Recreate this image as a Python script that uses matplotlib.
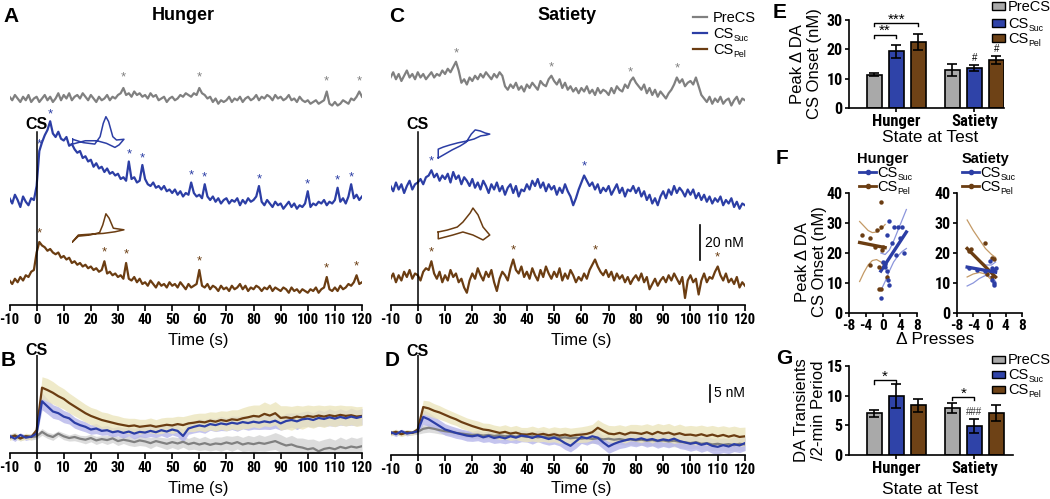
import numpy as np
import matplotlib
matplotlib.use('Agg')
import matplotlib.pyplot as plt
from matplotlib import font_manager
from matplotlib.font_manager import FontProperties
from matplotlib.patches import Rectangle
from matplotlib.lines import Line2D

names = {f.name for f in font_manager.fontManager.ttflist}
BASE = 'Liberation Sans' if 'Liberation Sans' in names else 'DejaVu Sans'
plt.rcParams['font.family'] = [BASE, 'DejaVu Sans']


def _w(f):
    w = f.weight
    if isinstance(w, str):
        w = font_manager.weight_dict.get(w, 400)
    return w


COND_PATH = None
_best = None
for f in font_manager.fontManager.ttflist:
    n = f.name.lower()
    st = str(f.stretch).lower()
    narrow = ('narrow' in n) or ('condensed' in n) or ('condensed' in st) or ('condensed' in f.fname.lower())
    if narrow and _w(f) >= 600 and f.style == 'normal':
        rank = 0 if 'liberation' in n else (1 if 'roboto' in n else (2 if 'open' in n else 3))
        if _best is None or rank < _best:
            _best = rank
            COND_PATH = f.fname


def tickfont(size):
    if COND_PATH:
        return FontProperties(fname=COND_PATH, size=size)
    return FontProperties(family=BASE, weight='bold', size=size - 1.0)


# ---------------- DATA ----------------
time_ticks = [-10, 0, 10, 20, 30, 40, 50, 60, 70, 80, 90, 100, 110, 120]
series_main = ['PreCS', 'CS', 'CS']
series_subs = ['', 'Suc', 'Pel']

# Panel A (Hunger, single trials, nM, 1-s samples from -10 to 120 s)
gray_A = [1, -1, 2, 0, -2, 1, -1, 2, -2, 0,
          1, -2, 0, 2, -1, 1, -2, 0, 3, -1,
          2, 0, 3, -1, 1, 2, 0, 3, 1, -1,
          2, 0, -2, 1, -1, 0, 2, -1, 1, 0,
          2, 3, 6, 2, 3, 1, 4, 2, 3, 1,
          2, 0, 3, 1, 2, -1, 0, 1, -2, 0,
          1, -1, 0, 2, 1, 3, 2, 1, 3, 2,
          6, 3, 2, 0, 1, -2, 0, -3, -1, -2,
          -1, 1, -2, 0, -1, 1, -2, 0, 1, -1,
          0, 2, -1, 1, 0, 2, 1, -1, 2, 0,
          1, -1, 0, 2, -1, 0, -2, 1, -1, -2,
          -1, -3, -2, -1, -3, -2, -1, 4, -3, -4,
          -2, -4, -3, -1, -2, -3, 0, -1, 1, 4, 1]
blue_A = [1, -2, 3, 0, -4, 2, -1, -3, 1, 0,
          8, 28, 33, 37, 40, 45, 38, 36, 39, 35,
          34, 36, 31, 32, 29, 27, 28, 24, 25, 22,
          23, 19, 21, 18, 19, 16, 18, 15, 16, 14,
          15, 12, 13, 11, 22, 12, 13, 10, 11, 20,
          12, 9, 8, 10, 7, 8, 6, 8, 5, 6,
          4, 6, 3, 5, 2, 4, 3, 10, 4, 2,
          3, 1, 9, 2, 0, 2, -1, 1, -2, 0,
          1, -2, 0, -1, 1, -3, 0, -2, 1, -1,
          0, 2, 8, -1, -3, 0, -2, -4, -1, -3,
          -2, -5, -3, -1, -4, -2, -5, -3, -4, -2,
          5, -4, -2, -3, -1, -2, 0, -3, -1, -2,
          0, 7, -1, 1, -2, 2, 9, 1, 3, 0, 2]
brown_A = [2, 0, 3, 1, 4, 2, 5, 4, 7, 8,
           18, 24, 22, 21, 19, 20, 18, 17, 18, 15,
           16, 14, 15, 12, 13, 11, 12, 10, 11, 9,
           10, 8, 9, 7, 8, 13, 6, 7, 5, 6,
           4, 5, 3, 12, 3, 2, 4, 1, 3, 0,
           1, -1, 2, 0, -2, 1, -1, 0, -2, 1,
           -1, 0, -2, 1, -1, -3, 0, -2, -1, 0,
           8, -1, -2, 0, -3, -1, -2, -4, -1, -3,
           -2, -4, -1, -3, -2, 0, -3, -1, -4, -2,
           -3, -1, -2, -4, -2, -3, -1, -4, -2, -3,
           -4, -2, -3, -5, -2, -4, -3, -5, -3, -4,
           -5, -3, -4, -2, -5, -3, -2, 4, -3, -4,
           -2, -4, -1, -3, -2, 0, -1, 1, 5, 0, 1]

# Panel C (Satiety, single trials)
gray_C = [12, 15, 11, 14, 10, 13, 16, 12, 14, 11,
          15, 12, 14, 11, 13, 15, 12, 14, 13, 16,
          14, 17, 15, 18, 21, 16, 9, 11, 8, 12,
          10, 13, 11, 14, 12, 15, 13, 11, 14, 12,
          15, 13, 7, 5, 8, 6, 9, 5, 7, 4,
          8, 6, 9, 7, 5, 10, 8, 7, 11, 13,
          10, 8, 11, 6, 9, 5, 7, 4, 6, 3,
          6, 4, 7, 3, 5, 2, 6, 3, 5, 4,
          2, 6, 3, 7, 5, 4, 8, 6, 10, 12,
          9, 7, 5, 8, 3, 6, 2, 5, 1, 4,
          2, 0, 3, 5, 8, 12, 9, 11, 7, 9,
          10, 8, 12, 7, 2, 0, -2, 1, -3, 0,
          -2, 1, -3, -1, 0, -4, -1, 1, -3, 0, -1]
blue_C = [8, 5, 10, 6, 9, 4, 8, 11, 6, 9,
          10, 12, 9, 13, 14, 17, 13, 15, 11, 14,
          12, 15, 10, 16, 12, 14, 9, 13, 11, 8,
          12, 7, 10, 6, 11, 8, 4, 9, 6, 10,
          5, 8, 3, 7, 9, 4, 8, 2, 6, 5,
          9, 6, 11, 8, 12, 7, 10, 5, 9, 6,
          8, 3, 7, 4, 9, 5, 2, -3, 1, 6,
          10, 14, 11, 8, 10, 6, 9, 4, 7, 5,
          8, 3, 6, 9, 4, 7, 2, 6, 5, 8,
          4, 7, 2, 5, 0, 3, -2, 1, -3, 2,
          5, 1, 6, 3, 8, 4, 7, 5, 2, 6,
          3, 6, 1, 4, 0, 3, -1, 2, -2, 1,
          -1, 2, -3, 0, -2, 1, -4, -1, -5, -2, -3]
brown_C = [3, 6, 1, 5, 2, 7, 4, 8, 3, 6,
           5, 2, 7, 9, 8, 13, 6, 3, 7, 1,
           5, 2, 8, 4, 6, 1, 3, -2, -5, 2,
           6, 3, 9, 5, 2, 7, 4, 8, 1, -4,
           3, 7, 5, 2, 9, 14, 8, 6, 10, 4,
           7, 3, 9, 5, 2, 8, 4, 10, 6, 3,
           7, 4, 9, 2, 6, 3, 8, 5, 1, 4,
           2, 6, 3, 8, 11, 14, 10, 7, 5, 8,
           4, 7, 2, 6, 3, 5, 1, 4, 0, 3,
           5, 2, 6, 1, 4, -3, 0, 3, -1, 2,
           4, 1, 5, 2, 6, 3, 0, 4, -8, 2,
           5, 1, 3, -6, 2, 6, 1, 4, 3, 7,
           10, 5, 2, 6, 1, 3, 0, 4, -2, 1, -1]

stars_gray_A = [32, 60, 107, 119]
stars_blue_A = [1, 5, 34, 39, 57, 62, 82, 100, 111, 116]
stars_brown_A = [1, 25, 33, 60, 107, 118]
stars_gray_C = [14, 49, 78, 95]
stars_blue_C = [5, 61]
stars_brown_C = [5, 35, 65, 110]

# Panel B (Hunger averages, nM, 2-s samples from -10 to 120 s)
B_gray = [0.0, 0.5, -0.5, 0.3, 0.0, 0.2, 1.5, 0.5, 0.0, 1.0, 0.2, -0.3, 0.0, -0.5, -0.8, -0.3,
          -1.0, -0.6, -0.9, -0.4, -1.2, -0.8, -1.1, -1.5, -1.0, -1.3, -1.8, -1.2, -1.6, -2.0,
          -1.5, -1.9, -1.4, -2.1, -1.7, -2.2, -1.8, -2.3, -1.9, -2.1, -1.6, -2.0, -1.5, -2.2,
          -1.8, -2.1, -1.7, -2.0, -1.6, -1.2, -1.9, -2.5, -2.2, -2.8, -3.1, -3.6, -3.3, -4.2,
          -3.5, -3.2, -3.6, -2.9, -3.3, -2.8, -3.1, -2.7]
B_blue = [0.3, -0.5, 0.6, -0.2, 0.1, 1.0, 10.5, 9.0, 7.5, 7.0, 6.0, 5.5, 4.2, 3.5, 3.0, 2.2,
          2.5, 1.8, 2.0, 1.4, 1.7, 1.2, 1.6, 1.0, 1.5, 1.3, 1.8, 1.4, 2.0, 1.6, 2.2, 1.8, 0.3,
          2.5, 3.0, 3.4, 3.1, 3.8, 3.5, 4.0, 3.7, 4.2, 3.9, 4.4, 4.1, 4.5, 4.2, 4.6, 4.3, 4.8,
          4.0, 4.7, 5.0, 4.6, 5.2, 5.4, 5.0, 5.6, 5.3, 5.8, 5.4, 5.9, 5.5, 6.0, 5.6, 6.0]
B_brown = [-0.2, 0.4, -0.4, 0.2, 0.0, 2.0, 14.5, 13.8, 13.0, 12.0, 11.2, 10.0, 9.0, 8.0, 7.0,
           6.2, 5.6, 5.0, 4.6, 4.2, 3.8, 3.5, 3.2, 3.4, 3.0, 3.2, 3.4, 3.0, 3.3, 3.6, 3.4, 3.8,
           3.5, 4.0, 4.2, 4.5, 4.3, 4.8, 4.5, 5.0, 4.7, 5.2, 5.0, 5.5, 5.8, 6.2, 6.0, 6.8, 6.3,
           7.0, 5.6, 5.8, 5.5, 6.0, 5.7, 6.2, 5.9, 6.3, 6.0, 6.4, 6.1, 6.5, 6.2, 6.4, 6.0, 6.2]
B_gray_sem = [0.8, 0.9, 0.7, 0.8, 0.9, 0.8, 1.0, 0.9, 1.0, 0.8, 1.0, 0.9, 1.1, 1.0, 1.2,
              1.1, 1.2, 1.0, 1.3, 1.2, 1.3, 1.1, 1.4, 1.3, 1.5, 1.4, 1.6, 1.4, 1.5, 1.7,
              1.6, 1.8, 1.6, 1.7, 1.9, 1.8, 2.0, 1.8, 1.9, 2.1, 2.0, 2.2, 2.0, 2.1, 2.3,
              2.2, 2.4, 2.2, 2.3, 2.5, 2.6, 2.4, 2.7, 2.5, 2.8, 2.9, 2.7, 3.0, 2.8, 2.9,
              2.7, 2.9, 2.6, 2.8, 2.7, 2.8]
B_blue_sem = [0.7, 0.8, 0.6, 0.8, 0.7, 0.9, 2.5, 2.2, 2.0, 1.9, 1.8, 1.7, 1.6, 1.5, 1.5,
              1.4, 1.5, 1.3, 1.4, 1.3, 1.4, 1.5, 1.3, 1.6, 1.4, 1.5, 1.7, 1.5, 1.6, 1.8,
              1.6, 1.7, 1.9, 1.7, 1.8, 1.9, 2.0, 1.8, 1.9, 2.1, 1.9, 2.0, 2.2, 2.0, 2.1,
              2.2, 2.0, 2.3, 2.1, 2.2, 2.0, 2.3, 2.1, 2.4, 2.2, 2.3, 2.1, 2.4, 2.2, 2.5,
              2.3, 2.4, 2.2, 2.5, 2.3, 2.4]
B_brown_sem = [0.8, 0.9, 0.7, 0.9, 0.8, 1.0, 3.2, 3.4, 3.3, 3.1, 3.0, 2.9, 2.8, 2.7, 2.6,
               2.5, 2.6, 2.4, 2.5, 2.3, 2.4, 2.2, 2.3, 2.1, 2.2, 2.0, 2.2, 2.1, 2.3, 2.2,
               2.4, 2.3, 2.5, 2.4, 2.6, 2.5, 2.7, 2.6, 2.8, 2.7, 2.9, 2.8, 3.0, 3.1, 3.3,
               3.2, 3.4, 3.5, 3.3, 3.4, 3.6, 3.4, 3.5, 3.3, 3.4, 3.2, 3.3, 3.1, 3.2, 3.0,
               3.1, 2.9, 3.0, 2.8, 2.9, 2.8]

# Panel D (Satiety averages)
D_gray = [0.0, 0.3, -0.3, 0.2, 0.0, 0.3, 1.2, 1.5, 1.2, 0.8, 0.5, 0.3, 0.0, -0.2, -0.4,
          -0.6, -0.5, -0.8, -0.6, -0.9, -0.7, -1.0, -0.8, -1.1, -0.9, -1.2, -1.0, -1.3, -1.1,
          -1.4, -1.2, -1.5, -1.3, -1.6, -1.4, -1.7, -1.5, -1.8, -1.6, -1.9, -1.7, -2.0, -1.8,
          -2.1, -1.9, -2.2, -2.0, -2.3, -2.1, -2.4, -2.2, -2.5, -2.3, -2.6, -2.8, -3.0, -2.7,
          -3.2, -3.0, -3.4, -3.2, -3.5, -3.3, -3.6, -3.2, -3.4]
D_blue = [0.2, -0.4, 0.5, -0.2, 0.1, 0.5, 4.7, 4.0, 3.0, 2.0, 1.0, 0.5, 0.0, -0.4, -0.8,
          -1.0, -0.7, -1.3, -0.9, -1.5, -1.2, -1.6, -1.0, -1.4, -0.8, -1.0, -1.5, -0.9, -1.3,
          -1.8, -1.4, -2.0, -3.0, -3.8, -2.5, -1.2, -1.6, -1.0, -1.4, -2.8, -4.0, -3.2, -2.6,
          -2.2, -1.8, -2.0, -1.6, -2.1, -1.8, -2.3, -1.9, -2.2, -1.7, -2.4, -2.8, -3.2, -2.9,
          -3.5, -3.1, -3.8, -4.1, -3.6, -4.0, -3.3, -3.7, -3.0]
D_brown = [-0.2, 0.3, -0.4, 0.2, 0.0, 1.0, 7.6, 7.2, 6.5, 6.0, 5.3, 4.6, 4.0, 3.2, 2.6,
           2.0, 1.5, 1.0, 0.8, 0.4, 0.0, 0.3, -0.2, 0.1, -0.4, -0.5, -0.2, -0.6, -0.3, -0.7,
           -0.4, -0.8, -0.5, -0.9, -0.6, -0.5, -0.3, 0.2, 1.5, 0.6, -0.2, -0.4, 0.0, -0.5,
           0.1, 0.0, -0.3, 0.2, -0.4, 0.3, -0.2, 0.1, -0.5, -0.1, -0.6, -0.5, -0.8, -0.4,
           -0.9, -0.5, -1.0, -0.6, -1.1, -0.7, -1.2, -1.0]
D_gray_sem = [0.6, 0.7, 0.6, 0.7, 0.6, 0.7, 1.2, 1.3, 1.2, 1.1, 1.0, 1.0, 0.9, 1.0, 0.9,
              1.0, 1.1, 1.0, 1.1, 1.0, 1.1, 1.2, 1.1, 1.2, 1.1, 1.2, 1.3, 1.2, 1.3, 1.2,
              1.3, 1.2, 1.4, 1.3, 1.4, 1.3, 1.4, 1.3, 1.5, 1.4, 1.5, 1.4, 1.6, 1.5, 1.6,
              1.5, 1.6, 1.5, 1.7, 1.6, 1.7, 1.6, 1.8, 1.7, 1.8, 1.7, 1.8, 1.7, 1.9, 1.8,
              1.9, 1.8, 1.9, 1.8, 1.9, 1.8]
D_blue_sem = [0.6, 0.7, 0.6, 0.7, 0.6, 0.8, 2.2, 2.0, 1.9, 1.8, 1.7, 1.6, 1.6, 1.5, 1.6,
              1.5, 1.6, 1.5, 1.7, 1.6, 1.7, 1.6, 1.8, 1.7, 1.8, 1.7, 1.8, 1.7, 1.9, 1.8,
              1.9, 1.8, 1.9, 1.8, 2.0, 1.9, 2.0, 1.9, 2.0, 1.9, 2.0, 2.1, 2.0, 2.1, 2.0,
              2.1, 2.0, 2.1, 2.0, 2.2, 2.1, 2.2, 2.1, 2.2, 2.1, 2.2, 2.1, 2.2, 2.1, 2.2,
              2.1, 2.2, 2.1, 2.2, 2.1, 2.2]
D_brown_sem = [0.7, 0.8, 0.7, 0.8, 0.7, 0.9, 2.0, 2.2, 2.1, 2.0, 1.9, 1.9, 1.8, 1.9, 1.8,
               1.9, 2.0, 1.9, 2.0, 1.9, 2.0, 2.1, 2.0, 2.1, 2.0, 2.1, 2.2, 2.1, 2.2, 2.1,
               2.2, 2.3, 2.2, 2.3, 2.2, 2.3, 2.4, 2.3, 2.4, 2.3, 2.4, 2.5, 2.4, 2.5, 2.4,
               2.5, 2.6, 2.5, 2.6, 2.5, 2.6, 2.7, 2.6, 2.7, 2.6, 2.7, 2.8, 2.7, 2.8, 2.7,
               2.8, 2.7, 2.8, 2.7, 2.8, 2.7]

# Cyclic voltammogram insets (relative units)
cv_A_suc_x = [0.01, 0.21, 0.43, 0.53, 0.59, 0.64, 0.69, 0.77, 0.84, 0.98, 0.89, 0.81, 0.65, 0.47, 0.25, 0.01]
cv_A_suc_y = [0.29, 0.20, 0.16, 0.36, 0.72, 0.90, 0.77, 0.36, 0.27, 0.29, 0.14, 0.07, 0.18, 0.25, 0.25, 0.16]
cv_A_pel_x = [0.01, 0.12, 0.34, 0.52, 0.58, 0.64, 0.70, 0.78, 0.98, 0.81, 0.59, 0.34, 0.12]
cv_A_pel_y = [0.08, 0.22, 0.25, 0.31, 0.50, 0.78, 0.67, 0.42, 0.38, 0.33, 0.29, 0.27, 0.25]
cv_C_suc_x = [0.04, 0.16, 0.29, 0.43, 0.54, 0.63, 0.70, 0.79, 0.88, 0.96, 0.89, 0.80, 0.68, 0.54, 0.39, 0.25, 0.13, 0.04]
cv_C_suc_y = [0.06, 0.17, 0.29, 0.40, 0.51, 0.74, 0.86, 0.83, 0.77, 0.74, 0.71, 0.69, 0.60, 0.54, 0.49, 0.43, 0.37, 0.31]
cv_C_pel_x = [0.04, 0.20, 0.38, 0.48, 0.61, 0.66, 0.75, 0.84, 0.96, 0.84, 0.66, 0.48, 0.30, 0.04]
cv_C_pel_y = [0.29, 0.34, 0.42, 0.55, 0.79, 0.92, 0.74, 0.42, 0.21, 0.08, 0.21, 0.29, 0.21, 0.11]

# Panel E: peak change in DA at CS onset (nM)
groups = ['Hunger', 'Satiety']
E_hunger_mean = [11.3, 19.3, 22.5]
E_hunger_sem = [0.5, 2.3, 2.8]
E_satiety_mean = [13.0, 13.7, 16.4]
E_satiety_sem = [2.0, 1.0, 1.4]

# Panel F: correlation with change in presses
hun_suc_x = [-0.5, 0.0, 0.5, 0.5, 1.0, 1.2, 1.5, 1.0, 1.5, 2.0, 2.5, 3.5, 4.0, 4.5, 5.0, 3.0]
hun_suc_y = [5.0, 17.0, 15.5, 16.5, 14.0, 11.0, 9.5, 26.0, 30.5, 23.5, 28.5, 28.5, 25.0, 28.5, 20.0, 19.5]
hun_pel_x = [-5.0, -3.0, -1.5, -0.5, -0.5, -3.0, -1.0, -1.0, -0.5, 0.0, 1.0, -0.2, -2.0]
hun_pel_y = [26.0, 25.0, 27.5, 28.5, 37.0, 16.0, 15.5, 8.0, 8.0, 22.0, 12.0, 21.0, 22.0]
hun_suc_fit_x = [-0.5, 5.5]
hun_suc_fit_y = [14.0, 27.0]
hun_pel_fit_x = [-5.5, 0.5]
hun_pel_fit_y = [23.5, 21.8]
hun_suc_ci_x = [-0.5, 0.5, 1.5, 2.5, 3.5, 4.5, 5.5]
hun_suc_ci_hi = [20.0, 19.5, 21.0, 24.0, 27.5, 31.0, 34.5]
hun_suc_ci_lo = [7.5, 10.5, 14.0, 17.0, 19.0, 20.5, 21.5]
hun_pel_ci_x = [-5.5, -4.5, -3.5, -2.5, -1.5, -0.5, 0.5]
hun_pel_ci_hi = [30.5, 29.0, 27.5, 26.8, 27.0, 28.0, 29.5]
hun_pel_ci_lo = [10.5, 13.5, 16.0, 17.5, 17.8, 17.0, 15.0]

sat_suc_x = [-5.0, -3.0, -1.0, 0.0, 0.5, 1.0, 1.5, 0.5, 1.0, 1.2]
sat_suc_y = [15.0, 14.5, 14.0, 17.5, 15.0, 14.5, 15.0, 11.0, 10.0, 9.5]
sat_pel_x = [-5.0, -4.5, -1.0, 0.5, 1.0, 0.5, -0.5]
sat_pel_y = [20.5, 21.5, 23.5, 18.5, 18.0, 12.0, 13.0]
sat_suc_fit_x = [-5.5, 1.5]
sat_suc_fit_y = [15.3, 13.6]
sat_pel_fit_x = [-5.5, 1.5]
sat_pel_fit_y = [21.5, 12.0]
sat_ci_x = [-5.5, -4.0, -2.5, -1.0, 0.5, 1.5]
sat_suc_ci_hi = [21.5, 19.5, 17.5, 16.0, 16.0, 17.0]
sat_suc_ci_lo = [9.0, 10.0, 11.5, 12.5, 12.0, 10.5]
sat_pel_ci_hi = [31.0, 27.5, 24.5, 21.5, 19.5, 18.5]
sat_pel_ci_lo = [12.0, 13.0, 13.5, 13.0, 11.0, 9.0]

# Panel G: DA transients per 2-min period
G_hunger_mean = [7.0, 10.0, 8.4]
G_hunger_sem = [0.6, 2.0, 1.1]
G_satiety_mean = [7.9, 4.9, 7.1]
G_satiety_sem = [0.8, 1.2, 1.3]

# ---------------- STYLE ----------------
C_GRAY, C_BLUE, C_BROWN = '#808080', '#2c3ea5', '#6b3d12'
BAR_COLORS = ['#a9a9a9', '#2f43a8', '#6e4216']
BAND = {'gray': '#d4d4d4', 'blue': '#b6b6ea', 'brown': '#ece5bd'}
W, H = 1050, 499
fig = plt.figure(figsize=(W / 100, H / 100), dpi=100)


def box(x0, y0, x1, y1):
    return [x0 / W, 1 - y1 / H, (x1 - x0) / W, (y1 - y0) / H]


def ftext(x, y, s, **kw):
    fig.text(x / W, 1 - y / H, s, **kw)


def series_label(x, y_mid, main, sub, fs):
    """Draw a legend label: main text with an optional small lowered subscript."""
    px = fs * 100 / 72
    base = y_mid + 0.36 * px
    ftext(x, base, main, fontsize=fs, ha='left', va='baseline')
    if sub:
        ftext(x + 1.40 * px, base + 0.22 * px, sub, fontsize=fs * 0.6, ha='left', va='baseline')


def trace_axes(rect, ylim):
    ax = fig.add_axes(rect)
    ax.set_xlim(-10, 120)
    ax.set_ylim(*ylim)
    for s in ['top', 'right', 'left']:
        ax.spines[s].set_visible(False)
    ax.spines['bottom'].set_linewidth(1.2)
    ax.set_yticks([])
    ax.set_xticks(time_ticks)
    ax.set_xticklabels([str(t) for t in time_ticks], fontproperties=tickfont(10.5))
    ax.tick_params(axis='x', length=4, width=1.2, pad=2)
    ax.patch.set_alpha(0)
    return ax


def star_marks(ax, t, vals, off, times, color, dy):
    v = np.asarray(vals, float)
    for st in times:
        i = int(np.argmin(np.abs(t - st)))
        ax.text(t[i], v[i] + off + dy, '*', color=color, ha='center', va='center',
                fontsize=9.5, clip_on=False)


def inset(rect, xs, ys, color):
    a = fig.add_axes(rect)
    a.plot(xs + xs[:1], ys + ys[:1], color=color, lw=1.1)
    a.set_xlim(0, 1)
    a.set_ylim(0, 1)
    a.axis('off')


t1 = np.arange(-10, 121)
t2 = np.arange(-10, 121, 2)
OFF_GRAY, OFF_BLUE, OFF_BROWN = 118, 60, 12
LW_TRACE = 1.6
XL, XR = 9.5, 362
XL2, XR2 = 390.5, 745

# ---------------- Panel A ----------------
axA = trace_axes(box(XL, 60, XR, 305), (0, 140))
axA.plot(t1, np.array(gray_A) + OFF_GRAY, color=C_GRAY, lw=LW_TRACE)
axA.plot(t1, np.array(blue_A) + OFF_BLUE, color=C_BLUE, lw=LW_TRACE)
axA.plot(t1, np.array(brown_A) + OFF_BROWN, color=C_BROWN, lw=LW_TRACE)
star_marks(axA, t1, gray_A, OFF_GRAY, stars_gray_A, C_GRAY, 6)
star_marks(axA, t1, blue_A, OFF_BLUE, stars_blue_A, C_BLUE, 4)
star_marks(axA, t1, brown_A, OFF_BROWN, stars_brown_A, C_BROWN, 5)
axA.plot([0, 0], [0, 99], color='black', lw=1.1)
axA.text(0, 103, 'CS', fontweight='bold', fontsize=11.5, ha='center', va='center')
inset(box(72, 113, 125, 150), cv_A_suc_x, cv_A_suc_y, C_BLUE)
inset(box(72, 205, 125, 245), cv_A_pel_x, cv_A_pel_y, C_BROWN)

# ---------------- Panel C ----------------
axC = trace_axes(box(XL2, 60, XR2, 305), (0, 140))
axC.plot(t1, np.array(gray_C) + OFF_GRAY, color=C_GRAY, lw=LW_TRACE)
axC.plot(t1, np.array(blue_C) + OFF_BLUE, color=C_BLUE, lw=LW_TRACE)
axC.plot(t1, np.array(brown_C) + OFF_BROWN, color=C_BROWN, lw=LW_TRACE)
star_marks(axC, t1, gray_C, OFF_GRAY, stars_gray_C, C_GRAY, 5)
star_marks(axC, t1, blue_C, OFF_BLUE, stars_blue_C, C_BLUE, 5)
star_marks(axC, t1, brown_C, OFF_BROWN, stars_brown_C, C_BROWN, 5)
axC.plot([0, 0], [0, 99], color='black', lw=1.1)
axC.text(0, 103, 'CS', fontweight='bold', fontsize=11.5, ha='center', va='center')
axC.plot([103.5, 103.5], [25.7, 45.7], color='black', lw=1.2)
axC.text(105.5, 35.7, '20 nM', fontsize=10, ha='left', va='center')
inset(box(436, 125, 492, 160), cv_C_suc_x, cv_C_suc_y, C_BLUE)
inset(box(436, 205, 492, 243), cv_C_pel_x, cv_C_pel_y, C_BROWN)


# ---------------- Panels B and D ----------------
def avg_panel(rect, ylim, means, sems):
    ax = trace_axes(rect, ylim)
    keys = ['gray', 'blue', 'brown']
    for k, m, s in zip(keys, means, sems):
        m = np.asarray(m)
        s = np.asarray(s)
        ax.fill_between(t2, m - s, m + s, color=BAND[k], lw=0, alpha=0.8)
    for c, m in zip([C_GRAY, C_BROWN, C_BLUE], [means[0], means[2], means[1]]):
        ax.plot(t2, m, color=c, lw=1.6)
    return ax


axB = avg_panel(box(XL, 355, XR, 453), (-4.7, 24.1), [B_gray, B_blue, B_brown],
                [B_gray_sem, B_blue_sem, B_brown_sem])
axB.plot([0, 0], [-4.7, 24.1], color='black', lw=1.1)
axB.text(0, 25.5, 'CS', fontweight='bold', fontsize=11.5, ha='center', va='center', clip_on=False)

axD = avg_panel(box(XL2, 355, XR2, 455), (-6.5, 22.9), [D_gray, D_blue, D_brown],
                [D_gray_sem, D_blue_sem, D_brown_sem])
axD.plot([0, 0], [-6.5, 22.9], color='black', lw=1.1)
axD.text(0, 23.8, 'CS', fontweight='bold', fontsize=11.5, ha='center', va='center', clip_on=False)
axD.plot([107.2, 107.2], [9.1, 14.1], color='black', lw=1.2)
axD.text(108.5, 11.6, '5 nM', fontsize=10, ha='left', va='center')

for xc, yc in [(198, 340), (198, 488), (581, 340), (581, 488)]:
    ftext(xc, yc, 'Time (s)', fontsize=12, ha='center', va='center')

# ---------------- Legend in C ----------------
for yy, c, m, sb in zip([17, 33, 49], [C_GRAY, C_BLUE, C_BROWN], series_main, series_subs):
    fig.add_artist(Line2D([693 / W, 707 / W], [1 - yy / H, 1 - yy / H], color=c, lw=1.6))
    series_label(713, yy, m, sb, 10.5)

# ---------------- Bar panels ----------------
pos_h = [0, 1, 2]
pos_s = [3.55, 4.55, 5.55]


def bar_axes(rect, xlim, ylim, yticks):
    ax = fig.add_axes(rect)
    ax.set_xlim(*xlim)
    ax.set_ylim(*ylim)
    for s in ['top', 'right']:
        ax.spines[s].set_visible(False)
    for s in ['left', 'bottom']:
        ax.spines[s].set_linewidth(1.2)
    ax.set_yticks(yticks)
    ax.set_yticklabels([str(v) for v in yticks], fontproperties=tickfont(11.5))
    ax.set_xticks([1, 4.55])
    ax.set_xticklabels(groups, fontproperties=tickfont(12))
    ax.tick_params(length=3, width=1.2, pad=1.5)
    ax.patch.set_alpha(0)
    return ax


def draw_bars(ax, pos, means, sems):
    ax.bar(pos, means, width=0.68, color=BAR_COLORS, edgecolor='black', linewidth=1.2, zorder=2)
    ax.errorbar(pos, means, yerr=sems, fmt='none', ecolor='black', elinewidth=1.2,
                capsize=3.5, capthick=1.2, zorder=3)


def bracket(ax, x0, x1, y, h, s, fs=10, dy=0.0):
    ax.plot([x0, x0, x1, x1], [y - h, y, y, y - h], color='black', lw=1.0, clip_on=False)
    ax.text((x0 + x1) / 2, y + dy, s, ha='center', va='bottom', fontsize=fs, clip_on=False)


axE = bar_axes(box(849, 20, 1004, 108), (-1.14, 5.9), (0, 30), [0, 10, 20, 30])
draw_bars(axE, pos_h, E_hunger_mean, E_hunger_sem)
draw_bars(axE, pos_s, E_satiety_mean, E_satiety_sem)
bracket(axE, 0, 1, 25.0, 1.0, '**', 11, -1.2)
bracket(axE, 0, 2, 29.0, 1.0, '***', 11, -1.2)
axE.text(pos_s[1], E_satiety_mean[1] + E_satiety_sem[1] + 0.6, '#', ha='center', va='bottom', fontsize=7)
axE.text(pos_s[2], E_satiety_mean[2] + E_satiety_sem[2] + 0.6, '#', ha='center', va='bottom', fontsize=7)
ftext(806, 64, 'Peak \u0394 DA\nCS Onset (nM)', fontsize=12, rotation=90, ha='center', va='center',
      multialignment='center', linespacing=1.1)
ftext(930, 138, 'State at Test', fontsize=12.5, ha='center', va='center')

axG = bar_axes(box(849, 366, 1013, 455), (-1.14, 6.3), (0, 15), [0, 5, 10, 15])
draw_bars(axG, pos_h, G_hunger_mean, G_hunger_sem)
draw_bars(axG, pos_s, G_satiety_mean, G_satiety_sem)
bracket(axG, 0, 1, 12.6, 0.6, '*', 11, -0.6)
bracket(axG, pos_s[0], pos_s[1], 9.8, 0.6, '*', 11, -0.6)
axG.text(pos_s[1], G_satiety_mean[1] + G_satiety_sem[1] + 0.3, '###', ha='center', va='bottom',
         fontsize=7, color='#333333')
ftext(810, 410, 'DA Transients\n/2-min Period', fontsize=12, rotation=90, ha='center', va='center',
      multialignment='center', linespacing=1.1)
ftext(930, 489, 'State at Test', fontsize=12.5, ha='center', va='center')

# Legends for E and G
for ys in ([6, 23, 38], [359, 374, 389]):
    for yy, c, m, sb in zip(ys, BAR_COLORS, series_main, series_subs):
        fig.add_artist(Rectangle((992 / W, 1 - (yy + 3.5) / H), 13 / W, 7 / H, facecolor=c,
                                 edgecolor='black', lw=1.0, transform=fig.transFigure))
        series_label(1008, yy, m, sb, 10.5)


# ---------------- Panel F ----------------
def corr_axes(rect):
    ax = fig.add_axes(rect)
    ax.set_xlim(-8, 8)
    ax.set_ylim(0, 40)
    for s in ['top', 'right']:
        ax.spines[s].set_visible(False)
    for s in ['left', 'bottom']:
        ax.spines[s].set_linewidth(1.2)
    ax.set_xticks([-8, -4, 0, 4, 8])
    ax.set_xticklabels(['-8', '-4', '0', '4', '8'], fontproperties=tickfont(11))
    ax.set_yticks([0, 10, 20, 30, 40])
    ax.set_yticklabels(['0', '10', '20', '30', '40'], fontproperties=tickfont(11.5))
    ax.tick_params(length=3, width=1.2, pad=1.5)
    ax.patch.set_alpha(0)
    return ax


axFh = corr_axes(box(849, 193, 917, 313))
axFh.plot(hun_suc_ci_x, hun_suc_ci_hi, color='#8c96dc', lw=0.9)
axFh.plot(hun_suc_ci_x, hun_suc_ci_lo, color='#8c96dc', lw=0.9)
axFh.plot(hun_pel_ci_x, hun_pel_ci_hi, color='#c49a66', lw=0.9)
axFh.plot(hun_pel_ci_x, hun_pel_ci_lo, color='#c49a66', lw=0.9)
axFh.plot(hun_pel_fit_x, hun_pel_fit_y, color=C_BROWN, lw=2.4)
axFh.plot(hun_suc_fit_x, hun_suc_fit_y, color=C_BLUE, lw=2.4)
axFh.plot(hun_pel_x, hun_pel_y, 'o', color=C_BROWN, ms=3.2, mew=0)
axFh.plot(hun_suc_x, hun_suc_y, 'o', color=C_BLUE, ms=3.2, mew=0)

axFs = corr_axes(box(957, 193, 1022, 313))
axFs.plot(sat_ci_x, sat_suc_ci_hi, color='#8c96dc', lw=0.9)
axFs.plot(sat_ci_x, sat_suc_ci_lo, color='#8c96dc', lw=0.9)
axFs.plot(sat_ci_x, sat_pel_ci_hi, color='#c49a66', lw=0.9)
axFs.plot(sat_ci_x, sat_pel_ci_lo, color='#c49a66', lw=0.9)
axFs.plot(sat_pel_fit_x, sat_pel_fit_y, color=C_BROWN, lw=2.4)
axFs.plot(sat_suc_fit_x, sat_suc_fit_y, color=C_BLUE, lw=2.4)
axFs.plot(sat_pel_x, sat_pel_y, 'o', color=C_BROWN, ms=3.2, mew=0)
axFs.plot(sat_suc_x, sat_suc_y, 'o', color=C_BLUE, ms=3.2, mew=0)

ftext(811, 262, 'Peak \u0394 DA\nCS Onset (nM)', fontsize=12, rotation=90, ha='center', va='center',
      multialignment='center', linespacing=1.1)
ftext(935, 339, '\u0394 Presses', fontsize=12.5, ha='center', va='center')

for (tx, lx0), title in zip([(883, 859), (985, 962)], groups):
    ftext(tx, 159, title, fontsize=10.5, fontweight='bold', ha='center', va='center')
    for yy, c, m, sb in zip([172, 186], [C_BLUE, C_BROWN], series_main[1:], series_subs[1:]):
        fig.add_artist(Line2D([lx0 / W, (lx0 + 17) / W], [1 - yy / H, 1 - yy / H], color=c, lw=2.0))
        fig.add_artist(Line2D([(lx0 + 8.5) / W], [1 - yy / H], color=c, marker='o', ms=3))
        series_label(lx0 + 18, yy, m, sb, 10.5)

# ---------------- Titles and panel letters ----------------
ftext(183, 16, 'Hunger', fontsize=13, fontweight='bold', ha='center', va='center')
ftext(567, 16, 'Satiety', fontsize=13, fontweight='bold', ha='center', va='center')
for x, y, s in [(3, 16, 'A'), (389, 16, 'C'), (1, 361, 'B'), (385, 361, 'D'),
                (773, 13, 'E'), (776, 158, 'F'), (776, 358, 'G')]:
    ftext(x, y, s, fontsize=15, fontweight='bold', ha='left', va='center')

fig.savefig('out.png', dpi=100)
